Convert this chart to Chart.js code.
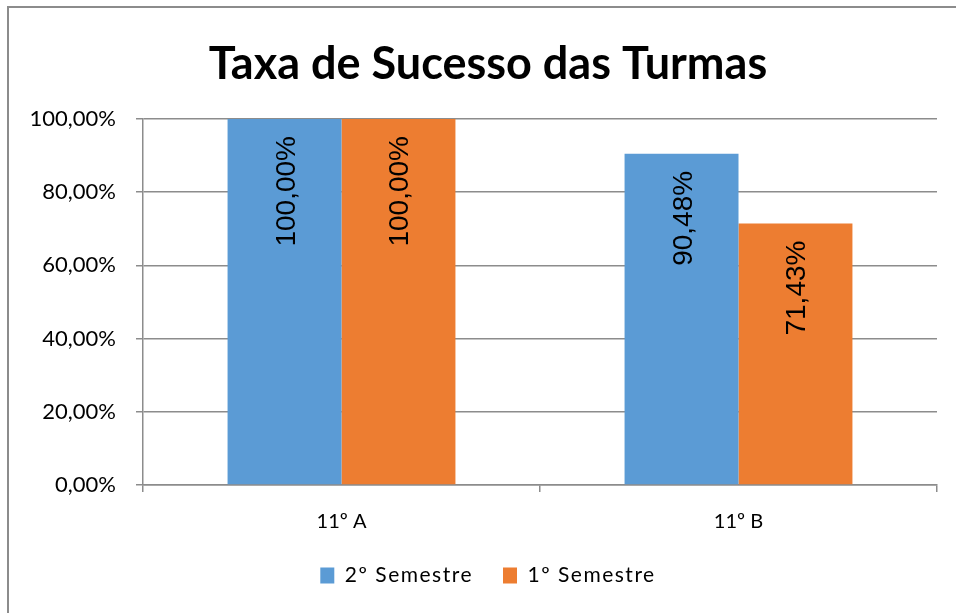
<!DOCTYPE html>
<html>
<head>
<meta charset="utf-8">
<script src="https://cdn.jsdelivr.net/npm/chart.js@4"></script>
<style>
  html, body { margin: 0; padding: 0; background: #fff; }
  #wrap { position: relative; width: 956px; height: 613px; overflow: hidden; }
  #frame { position: absolute; left: 7px; top: 6px; width: 980px; height: 640px;
           border-left: 2px solid #8c8c8c; border-top: 2px solid #8c8c8c; }
  canvas { position: absolute; left: 0; top: 0; }
</style>
</head>
<body>
<div id="wrap">
  <div id="frame"></div>
  <canvas id="chart" width="956" height="613"></canvas>
</div>
<script>
// Dados do gráfico
const turmas = ["11º A", "11º B"];
const semestre2 = [100, 90.48];
const semestre1 = [100, 71.43];
const rotulosY = ["0,00%", "20,00%", "40,00%", "60,00%", "80,00%", "100,00%"];

const fmtPct = v => v.toFixed(2).replace('.', ',') + '%';

// Rótulos de dados rodados dentro das barras
const rotulosBarras = {
    id: 'rotulosBarras',
    afterDatasetsDraw(chart) {
        const ctx = chart.ctx;
        ctx.save();
        ctx.font = '28px "Liberation Sans", Arial, sans-serif';
        ctx.fillStyle = '#000';
        ctx.textAlign = 'right';
        ctx.textBaseline = 'alphabetic';
        chart.data.datasets.forEach((ds, i) => {
            chart.getDatasetMeta(i).data.forEach((bar, j) => {
                ctx.save();
                ctx.translate(bar.x, bar.y + 17);
                ctx.rotate(-Math.PI / 2);
                ctx.fillText(fmtPct(ds.data[j]), 0, 10);
                ctx.restore();
            });
        });
        ctx.restore();
    }
};

// Espaçamento entre letras só na legenda (como no original)
// + deixa os rótulos do eixo Y sair da caixa do eixo sem serem cortados
const ajustes = {
    id: 'ajustes',
    afterInit(chart) {
        const lg = chart.legend;
        if (!lg) return;
        const comEspaco = fn => function () {
            chart.ctx.letterSpacing = '1.5px';
            const r = fn.apply(this, arguments);
            chart.ctx.letterSpacing = '0px';
            return r;
        };
        lg.fit = comEspaco(lg.fit);
        lg.draw = comEspaco(lg.draw);
    },
    afterLayout(chart) {
        chart.scales.y.left = 0;
    }
};

const ctx = document.getElementById('chart').getContext('2d');
const grafico = new Chart(ctx, {
    type: 'bar',
    data: {
        labels: turmas,
        datasets: [
            { label: '2º Semestre', data: semestre2, backgroundColor: '#5B9BD5' },
            { label: '1º Semestre', data: semestre1, backgroundColor: '#ED7D31' }
        ]
    },
    options: {
        responsive: false,
        animation: false,
        devicePixelRatio: 1,
        layout: { padding: { left: 39, right: 19, top: 20, bottom: 17 } },
        datasets: { bar: { categoryPercentage: 0.574, barPercentage: 1.0 } },
        plugins: {
            title: {
                display: true,
                text: 'Taxa de Sucesso das Turmas',
                color: '#000',
                font: { family: 'Lato', size: 45, weight: 'bold' },
                padding: { top: 17, bottom: 28 }
            },
            legend: {
                position: 'bottom',
                labels: {
                    color: '#000',
                    font: { family: 'Lato', size: 21 },
                    boxWidth: 14,
                    boxHeight: 16,
                    padding: 30
                }
            },
            tooltip: { enabled: false }
        },
        scales: {
            x: {
                afterFit: s => { s.height = 50; },
                grid: { offset: true, drawOnChartArea: false, drawTicks: true, tickLength: 7, color: '#8c8c8c', lineWidth: 1.5 },
                border: { color: '#8c8c8c', width: 1.5 },
                ticks: { color: '#000', font: { family: 'Lato', size: 20 }, padding: 18 }
            },
            y: {
                min: 0,
                max: 100,
                afterFit: s => { s.width = 104; },
                grid: { color: '#8c8c8c', lineWidth: 1.5, tickLength: 7 },
                border: { color: '#8c8c8c', width: 1.5 },
                ticks: {
                    stepSize: 20,
                    color: '#000',
                    padding: 20,
                    font: { family: 'Lato', size: 22 },
                    callback: (v, i) => rotulosY[i]
                }
            }
        }
    },
    plugins: [rotulosBarras, ajustes]
});
</script>
</body>
</html>
